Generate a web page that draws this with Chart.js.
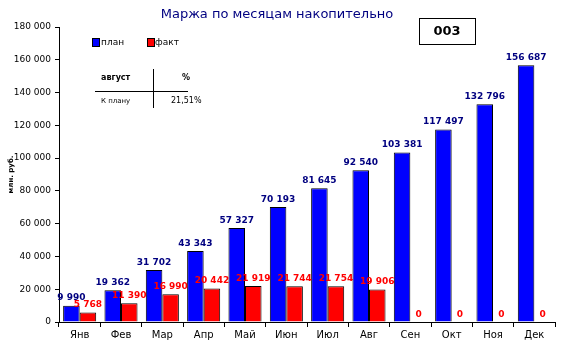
<!DOCTYPE html>
<html>
<head>
<meta charset="utf-8">
<script src="https://cdn.jsdelivr.net/npm/chart.js@4/dist/chart.umd.min.js"></script>
<style>
  html, body { margin: 0; padding: 0; background: #fff; }
  #wrap { width: 563px; height: 350px; position: relative; }
</style>
</head>
<body>
<div id="wrap"><canvas id="marginChart"></canvas></div>
<script>
// Данные
const months = ['Янв', 'Фев', 'Мар', 'Апр', 'Май', 'Июн', 'Июл', 'Авг', 'Сен', 'Окт', 'Ноя', 'Дек'];
const planValues = [9990, 19362, 31702, 43343, 57327, 70193, 81645, 92540, 103381, 117497, 132796, 156687];
const factValues = [5768, 11390, 16990, 20442, 21919, 21744, 21754, 19906, 0, 0, 0, 0];
const yTicks = [0, 20000, 40000, 60000, 80000, 100000, 120000, 140000, 160000, 180000];

const fmt = v => String(v).replace(/\B(?=(\d{3})+(?!\d))/g, ' ');
const FONT = '"DejaVu Sans", Verdana, sans-serif';

// Подписи, легенда, таблица и рамка "003"
const extras = {
    id: 'extras',
    afterDatasetsDraw(chart) {
        const c = chart.ctx;
        c.save();
        c.textAlign = 'center';
        c.textBaseline = 'bottom';
        c.font = 'bold 9px ' + FONT;
        const colors = ['#000080', '#ff0000'];
        chart.data.datasets.forEach((ds, di) => {
            const meta = chart.getDatasetMeta(di);
            c.fillStyle = colors[di];
            meta.data.forEach((bar, i) => {
                c.fillText(fmt(ds.data[i]), bar.x, bar.y - 3);
            });
        });

        // заголовок
        c.fillStyle = '#000080';
        c.font = '13px ' + FONT;
        c.textBaseline = 'middle';
        c.fillText('Маржа по месяцам накопительно', 277, 15);

        // рамка 003
        c.strokeStyle = '#000';
        c.lineWidth = 1;
        c.strokeRect(419.5, 18.5, 56, 26);
        c.fillStyle = '#000';
        c.font = 'bold 13px ' + FONT;
        c.fillText('003', 447, 32);

        // легенда
        c.textAlign = 'left';
        c.font = '9px ' + FONT;
        c.fillStyle = '#0000ff';
        c.fillRect(93, 39, 6, 7);
        c.strokeRect(92.5, 38.5, 7, 8);
        c.fillStyle = '#000';
        c.fillText('план', 101, 43);
        c.fillStyle = '#ff0000';
        c.fillRect(148, 39, 6, 7);
        c.strokeRect(147.5, 38.5, 7, 8);
        c.fillStyle = '#000';
        c.fillText('факт', 155, 43);

        // таблица
        c.font = 'bold 8px ' + FONT;
        c.fillText('август', 101, 78);
        c.fillText('%', 182, 78);
        c.font = '7px ' + FONT;
        c.fillText('К плану', 101, 101);
        c.font = '8px ' + FONT;
        c.fillText('21,51%', 171, 101);
        c.beginPath();
        c.moveTo(95, 91.5); c.lineTo(188, 91.5);
        c.moveTo(153.5, 69); c.lineTo(153.5, 108);
        c.stroke();
        c.restore();
    }
};

new Chart(document.getElementById('marginChart'), {
    type: 'bar',
    data: {
        labels: months,
        datasets: [{
            label: 'план',
            data: planValues,
            backgroundColor: '#0000ff',
            borderColor: '#000',
            borderWidth: 1,
            categoryPercentage: 0.8,
            barPercentage: 1
        }, {
            label: 'факт',
            data: factValues,
            backgroundColor: '#ff0000',
            borderColor: '#000',
            borderWidth: 1,
            categoryPercentage: 0.8,
            barPercentage: 1
        }]
    },
    options: {
        responsive: true,
        maintainAspectRatio: false,
        animation: false,
        layout: { padding: { top: 27, right: 8, left: 7, bottom: 0 } },
        scales: {
            x: {
                afterFit: s => { s.height = 28; },
                grid: { display: true, drawOnChartArea: false, color: '#000', tickLength: 5, offset: true },
                border: { color: '#000' },
                ticks: { color: '#000', font: { family: FONT, size: 10 }, padding: 2 }
            },
            y: {
                min: 0,
                max: 180000,
                afterFit: s => { s.width = 52; },
                afterBuildTicks: s => { s.ticks = yTicks.map(v => ({ value: v })); },
                grid: { display: true, drawOnChartArea: false, color: '#000', tickLength: 4 },
                border: { color: '#000' },
                ticks: {
                    color: '#000',
                    font: { family: FONT, size: 9 },
                    padding: 4,
                    callback: v => fmt(v)
                },
                title: {
                    display: true,
                    text: 'млн. руб.',
                    color: '#000',
                    font: { family: FONT, size: 7, weight: 'bold' },
                    padding: 0
                }
            }
        },
        plugins: {
            legend: { display: false },
            tooltip: { enabled: false }
        }
    },
    plugins: [extras]
});
</script>
</body>
</html>
